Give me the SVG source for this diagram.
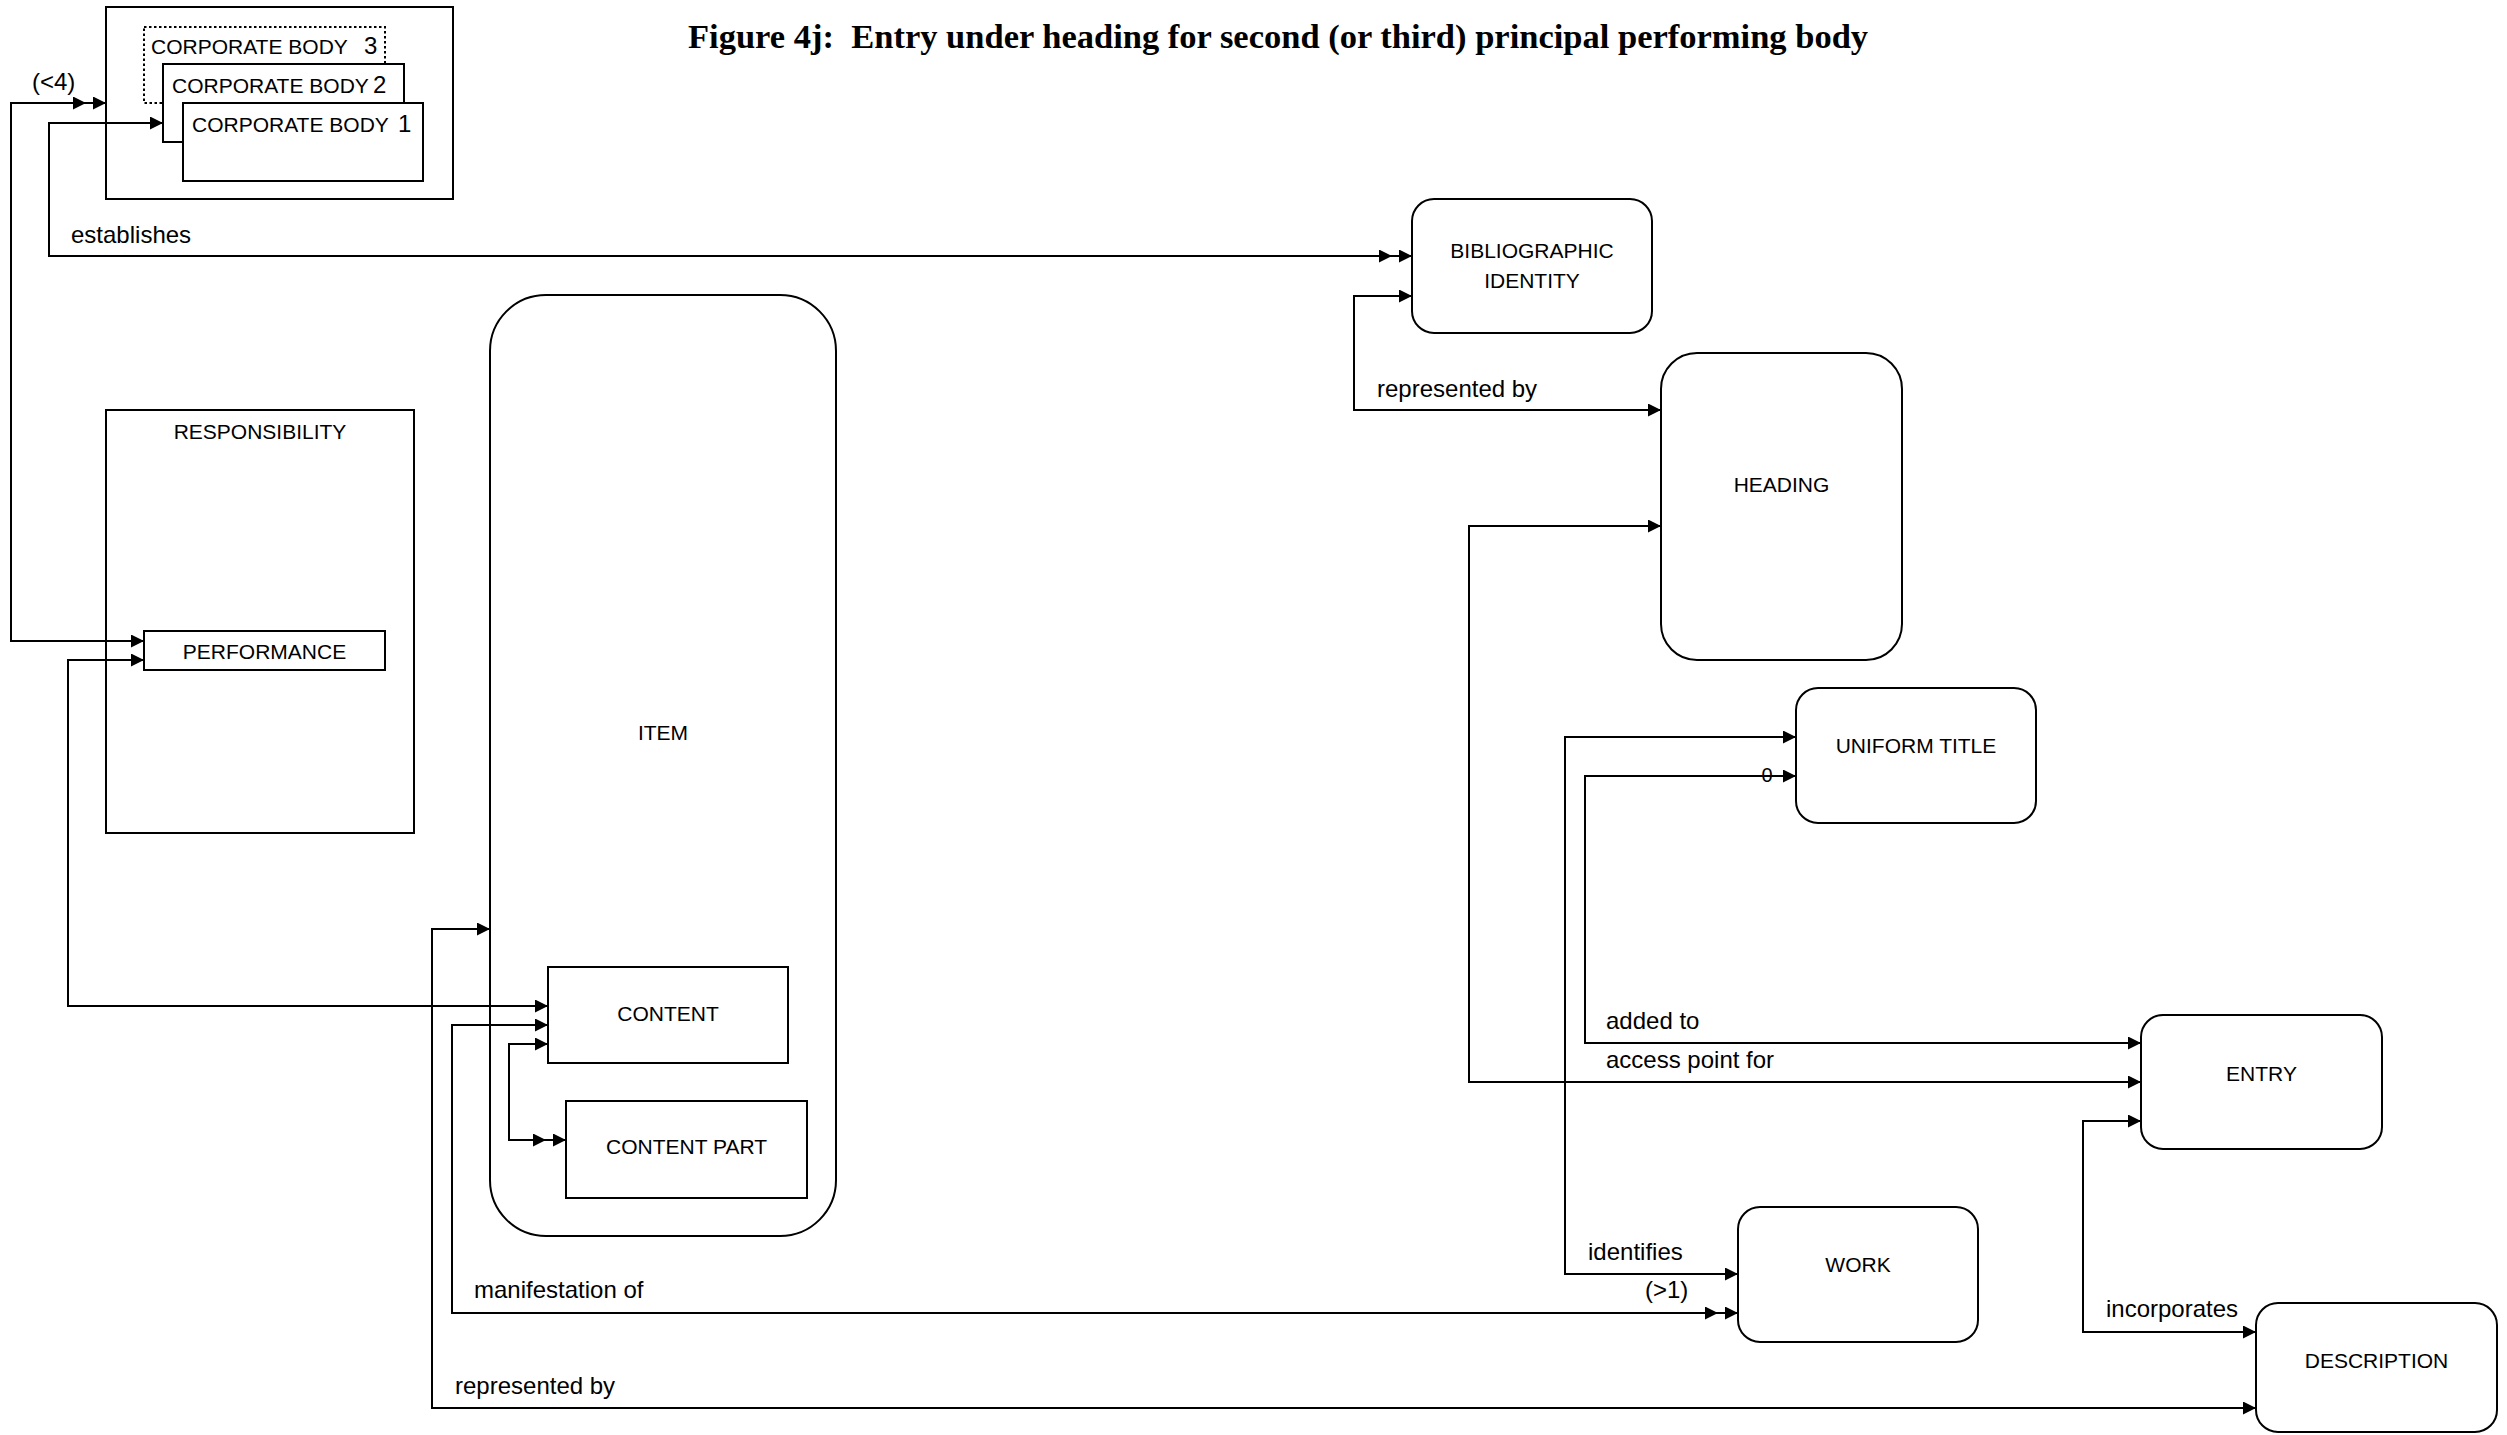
<svg xmlns="http://www.w3.org/2000/svg" width="2507" height="1435" viewBox="0 0 2507 1435">
<style>
.box{fill:#fff;stroke:#000;stroke-width:2}
.rbox{fill:#fff;stroke:#000;stroke-width:2}
.dot{fill:#fff;stroke:#000;stroke-width:2;stroke-dasharray:2.5,2.5}
.ln{fill:none;stroke:#000;stroke-width:2}
.nt{font-family:"Liberation Sans",Arial,sans-serif;font-size:21px;text-anchor:middle;fill:#000}
.ct{font-family:"Liberation Sans",Arial,sans-serif;font-size:21px;fill:#000}
.dg{font-size:24px}
.lb{font-family:"Liberation Sans",Arial,sans-serif;font-size:24px;fill:#000}
.ti{font-family:"Liberation Serif","Times New Roman",serif;font-size:34.5px;font-weight:bold;fill:#000}
</style>
<defs>
<marker id="ah" markerUnits="userSpaceOnUse" markerWidth="14" markerHeight="13" refX="13" refY="6.5" orient="auto-start-reverse"><path d="M0,0 L13,6.5 L0,13 z" fill="#000"/></marker>
<marker id="ah2" markerUnits="userSpaceOnUse" markerWidth="34" markerHeight="13" refX="33" refY="6.5" orient="auto-start-reverse"><path d="M0,0 L13,6.5 L0,13 z M20,0 L33,6.5 L20,13 z" fill="#000"/></marker>
</defs>
<rect width="2507" height="1435" fill="#fff"/>
<text id="title" class="ti" x="688" y="48" xml:space="preserve">Figure 4j:  Entry under heading for second (or third) principal performing body</text>

<g id="corporate-bodies">
<rect class="box" x="106" y="7" width="347" height="192"/>
<g id="corporate-body-3"><rect class="dot" x="144" y="27" width="241" height="76"/><text class="ct" x="151" y="54">CORPORATE BODY<tspan class="dg" x="364">3</tspan></text></g>
<g id="corporate-body-2"><rect class="box" x="163" y="64" width="241" height="78"/><text class="ct" x="172" y="93">CORPORATE BODY<tspan class="dg" x="373">2</tspan></text></g>
<g id="corporate-body-1"><rect class="box" x="183" y="103" width="240" height="78"/><text class="ct" x="192" y="132">CORPORATE BODY<tspan class="dg" x="398">1</tspan></text></g>
</g>

<g id="responsibility">
<rect class="box" x="106" y="410" width="308" height="423"/>
<text class="nt" x="260" y="439">RESPONSIBILITY</text>
<g id="performance"><rect class="box" x="144" y="631" width="241" height="39"/><text class="nt" x="264.5" y="659">PERFORMANCE</text></g>
</g>

<g id="item">
<rect class="rbox" x="490" y="295" width="346" height="941" rx="56" ry="56"/>
<text class="nt" x="663" y="740">ITEM</text>
<g id="content"><rect class="box" x="548" y="967" width="240" height="96"/><text class="nt" x="668" y="1021">CONTENT</text></g>
<g id="content-part"><rect class="box" x="566" y="1101" width="241" height="97"/><text class="nt" x="686.5" y="1154">CONTENT PART</text></g>
</g>

<g id="bibliographic-identity"><rect class="rbox" x="1412" y="199" width="240" height="134" rx="22" ry="22"/><text class="nt" x="1532" y="258">BIBLIOGRAPHIC</text><text class="nt" x="1532" y="288">IDENTITY</text></g>
<g id="heading"><rect class="rbox" x="1661" y="353" width="241" height="307" rx="36" ry="36"/><text class="nt" x="1781.5" y="492">HEADING</text></g>
<g id="uniform-title"><rect class="rbox" x="1796" y="688" width="240" height="135" rx="22" ry="22"/><text class="nt" x="1916" y="753">UNIFORM TITLE</text></g>
<g id="entry"><rect class="rbox" x="2141" y="1015" width="241" height="134" rx="22" ry="22"/><text class="nt" x="2261.5" y="1081">ENTRY</text></g>
<g id="work"><rect class="rbox" x="1738" y="1207" width="240" height="135" rx="22" ry="22"/><text class="nt" x="1858" y="1272">WORK</text></g>
<g id="description"><rect class="rbox" x="2256" y="1303" width="241" height="129" rx="22" ry="22"/><text class="nt" x="2376.5" y="1368">DESCRIPTION</text></g>

<g id="connectors">
<polyline class="ln" points="106,103 11,103 11,641 144,641" marker-start="url(#ah2)" marker-end="url(#ah)"/>
<polyline class="ln" points="163,123 49,123 49,256 1412,256" marker-start="url(#ah)" marker-end="url(#ah2)"/>
<polyline class="ln" points="144,660 68,660 68,1006 548,1006" marker-start="url(#ah)" marker-end="url(#ah)"/>
<polyline class="ln" points="490,929 432,929 432,1408 2256,1408" marker-start="url(#ah)" marker-end="url(#ah)"/>
<polyline class="ln" points="548,1025 452,1025 452,1313 1738,1313" marker-start="url(#ah)" marker-end="url(#ah2)"/>
<polyline class="ln" points="548,1044 509,1044 509,1140 566,1140" marker-start="url(#ah)" marker-end="url(#ah2)"/>
<polyline class="ln" points="1412,296 1354,296 1354,410 1661,410" marker-start="url(#ah)" marker-end="url(#ah)"/>
<polyline class="ln" points="1661,526 1469,526 1469,1082 2141,1082" marker-start="url(#ah)" marker-end="url(#ah)"/>
<polyline class="ln" points="1796,737 1565,737 1565,1274 1738,1274" marker-start="url(#ah)" marker-end="url(#ah)"/>
<polyline class="ln" points="1796,776 1585,776 1585,1043 2141,1043" marker-start="url(#ah)" marker-end="url(#ah)"/>
<polyline class="ln" points="2141,1121 2083,1121 2083,1332 2256,1332" marker-start="url(#ah)" marker-end="url(#ah)"/>
<text class="lb" x="32" y="90">(&lt;4)</text>
<text class="lb" x="71" y="243">establishes</text>
<text class="lb" x="1377" y="397">represented by</text>
<text class="lb" x="1767" y="782" style="font-size:20px" text-anchor="middle">0</text>
<text class="lb" x="1606" y="1029">added to</text>
<text class="lb" x="1606" y="1068">access point for</text>
<text class="lb" x="1588" y="1260">identifies</text>
<text class="lb" x="1645" y="1298">(&gt;1)</text>
<text class="lb" x="2106" y="1317">incorporates</text>
<text class="lb" x="474" y="1298">manifestation of</text>
<text class="lb" x="455" y="1394">represented by</text>
</g>
</svg>
